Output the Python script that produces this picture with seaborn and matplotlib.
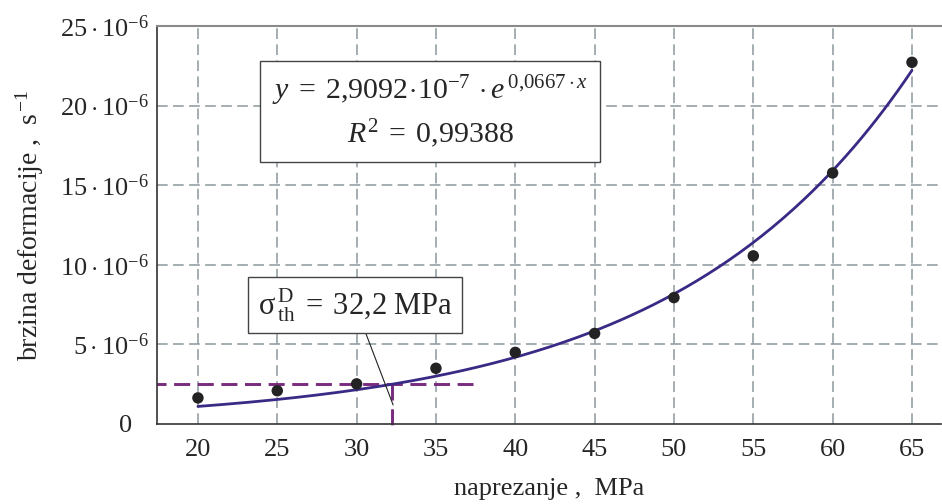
import numpy as np
import pandas as pd
import matplotlib
matplotlib.use("Agg")
import matplotlib.pyplot as plt
import seaborn as sns

# ---- data ----
stress = [20, 25, 30, 35, 40, 45, 50, 55, 60, 65]
rate = [1.64e-6, 2.09e-6, 2.52e-6, 3.50e-6, 4.50e-6, 5.69e-6, 7.94e-6, 10.56e-6, 15.77e-6, 22.72e-6]
fit_a = 2.9092e-7
fit_b = 0.0667
sigma_th = 32.2
x_ticks = [20, 25, 30, 35, 40, 45, 50, 55, 60, 65]
y_ticks = [0, 5e-6, 10e-6, 15e-6, 20e-6, 25e-6]
y_tick_labels = ["0", r"$5\cdot10^{-6}$", r"$10\cdot10^{-6}$", r"$15\cdot10^{-6}$",
                 r"$20\cdot10^{-6}$", r"$25\cdot10^{-6}$"]

sns.set_theme(style="white")
plt.rcParams['font.family'] = ['Liberation Serif', 'DejaVu Serif']
plt.rcParams['mathtext.fontset'] = 'custom'
plt.rcParams['mathtext.rm'] = 'Liberation Serif'
plt.rcParams['mathtext.it'] = 'Liberation Serif:italic'
plt.rcParams['mathtext.bf'] = 'Liberation Serif:bold'

fig = plt.figure(figsize=(9.42, 5.04), dpi=100)
ax = fig.add_axes([157/942, 1-424/504, (941-157)/942, (424-26)/504])

df = pd.DataFrame({"x": stress, "y": rate})
xc = np.linspace(min(stress), max(stress), 200)
curve = pd.DataFrame({"x": xc, "y": fit_a * np.exp(fit_b * xc)})

grid_kw = dict(color="#8c979c", lw=1.1, dashes=(7, 3.5), zorder=0)
for xt in x_ticks:
    ax.axvline(xt, **grid_kw)
for yt in y_ticks[1:-1]:
    ax.axhline(yt, **grid_kw)

sns.lineplot(data=curve, x="x", y="y", ax=ax, color="#3a2a85", lw=2.0, zorder=3)
sns.scatterplot(data=df, x="x", y="y", ax=ax, color="#232323", s=68, edgecolor="none", zorder=4)

y_th = fit_a * np.exp(fit_b * sigma_th)
purple = "#7a2a7e"
ax.plot([17.0, 37.35], [y_th, y_th], color=purple, lw=2.1, dashes=(5.5, 2.6), zorder=2)
ax.plot([sigma_th, sigma_th], [y_th, -0.1e-6], color=purple, lw=2.1, dashes=(5.5, 3), zorder=2,
        clip_on=False)

ax.set_xlim(17.42, 66.83)
ax.set_ylim(0, 25e-6)
ax.set_xticks(x_ticks)
ax.set_xticklabels([str(v) for v in x_ticks], fontsize=19)
ax.set_yticks(y_ticks)
ax.set_yticklabels(y_tick_labels, fontsize=19)
ax.tick_params(axis="x", length=0, pad=11)
ax.tick_params(axis="y", length=0, pad=6)
ax.yaxis.get_major_ticks()[0].set_pad(18)
ax.set_xlabel("naprezanje ,  MPa", fontsize=19, labelpad=12)
ax.set_ylabel(r"brzina deformacije ,  s$^{\,\mathregular{-1}}$", fontsize=20, labelpad=10)

for s in ["left", "bottom"]:
    ax.spines[s].set_color("#333333")
    ax.spines[s].set_linewidth(1.2)
ax.spines["top"].set_color("#8a8a8a")
ax.spines["top"].set_linewidth(1.5)
ax.spines["right"].set_visible(False)

ax.text(34.62, 19.6e-6,
        r"$y\;=\;2{,}9092\!\cdot\!10^{-7}\,\cdot e^{\,0{,}0667\cdot x}$" + "\n" + r"$R^{2}\;=\;0{,}99388$",
        fontsize=21.5, ha="center", va="center",
        bbox=dict(boxstyle="square,pad=0.4", fc="white", ec="#444444", lw=1.0),
        linespacing=1.35, zorder=6)

ax.annotate(r"$\mathregular{σ}_{\,\mathregular{th}}^{\,\mathregular{D}}\;=\;\mathregular{32{,}2\ MPa}$",
            xy=(sigma_th + 0.1, 1.2e-6), xytext=(29.9, 7.47e-6),
            fontsize=22, ha="center", va="center",
            bbox=dict(boxstyle="square,pad=0.3", fc="white", ec="#444444", lw=1.0), zorder=6,
            arrowprops=dict(arrowstyle="-", color="#222222", lw=0.8, shrinkA=0, shrinkB=0))

fig.savefig("out.png", dpi=100)
